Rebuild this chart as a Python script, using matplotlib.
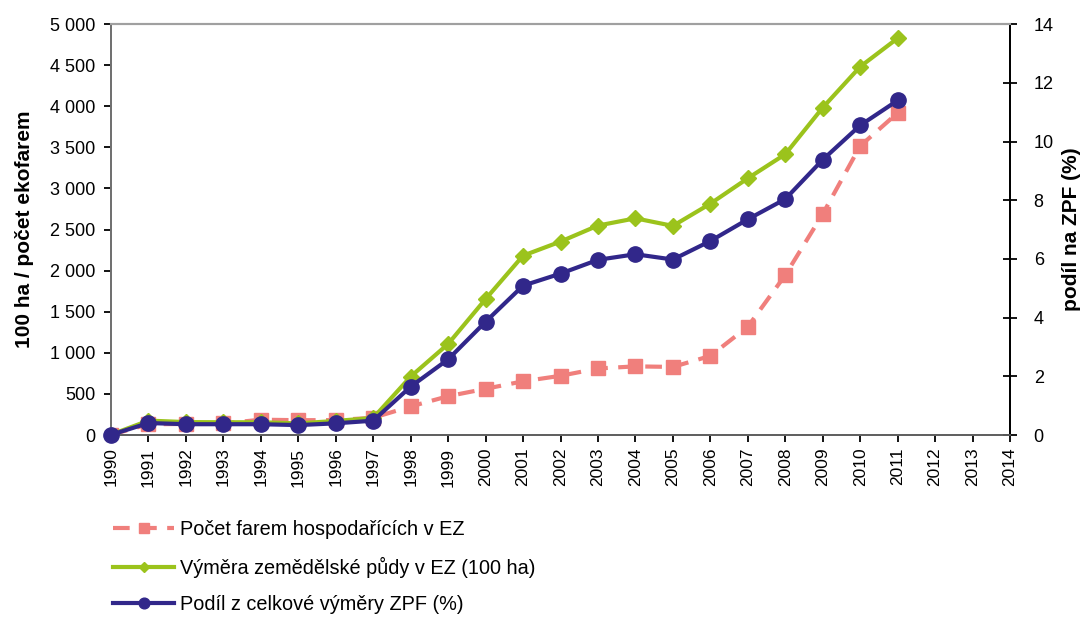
import matplotlib.pyplot as plt
import matplotlib.ticker as mticker
import numpy as np

years = list(range(1990, 2015))
data_years = list(range(1990, 2012))

farms = [3, 132, 135, 141, 187, 181, 182, 211, 348, 473, 563, 654, 721, 810,
         836, 829, 963, 1318, 1946, 2689, 3517, 3920]
area = [5, 176, 158, 156, 156, 142, 172, 208, 712, 1109, 1655, 2183, 2354, 2549,
        2637, 2545, 2815, 3124, 3417, 3984, 4482, 4828]
share = [0.01, 0.41, 0.37, 0.37, 0.37, 0.34, 0.40, 0.49, 1.65, 2.58, 3.86, 5.09,
         5.50, 5.97, 6.16, 5.98, 6.61, 7.35, 8.04, 9.38, 10.55, 11.40]

c_farm = '#F07F7C'
c_area = '#9BC31C'
c_share = '#31278A'

plt.rcParams['font.family'] = ['Liberation Sans', 'DejaVu Sans']

fig = plt.figure(figsize=(10.8, 6.18), dpi=100)
ax = fig.add_axes([0.1028, 0.296, 0.8324, 0.665])
ax2 = ax.twinx()

l1, = ax.plot(data_years, farms, color=c_farm, lw=3, ls=(0, (4, 2.5)), marker='s',
              ms=10, label='Počet farem hospodařících v EZ', zorder=2)
l2, = ax.plot(data_years, area, color=c_area, lw=3, marker='D', ms=8,
              label='Výměra zemědělské půdy v EZ (100 ha)', zorder=3)
l3, = ax2.plot(data_years, share, color=c_share, lw=3, marker='o', ms=11,
               label='Podíl z celkové výměry ZPF (%)', zorder=4, clip_on=False)

ax.set_xlim(1990, 2014)
ax.set_ylim(0, 5000)
ax2.set_ylim(0, 14)
ax.set_xticks(years)
ax.set_xticklabels([str(y) for y in years], rotation=90, fontsize=12.5)
ax.set_yticks(np.arange(0, 5001, 500))
ax.yaxis.set_major_formatter(mticker.FuncFormatter(lambda v, p: f'{int(v):,}'.replace(',', ' ')))
ax2.set_yticks(np.arange(0, 15, 2))
ax.tick_params(axis='x', labelsize=12.5, direction='out', length=5, width=1.3, pad=4)
ax.tick_params(axis='y', labelsize=13, direction='out', length=5, width=1.3, pad=6)
ax2.tick_params(axis='y', labelsize=13, direction='inout', length=10, width=1.3, pad=12)

for a in (ax, ax2):
    a.spines['top'].set_color('#A0A0A0')
    a.spines['top'].set_linewidth(1.5)
    a.spines['left'].set_linewidth(1.3)
    a.spines['left'].set_color('#707070')
    a.spines['right'].set_linewidth(1.3)
    a.spines['bottom'].set_linewidth(1.3)
    a.spines['bottom'].set_color('#606060')

ax.set_ylabel('100 ha / počet ekofarem', fontsize=15, fontweight='bold', labelpad=12)
ax2.set_ylabel('podíl na ZPF (%)', fontsize=15, fontweight='bold', labelpad=6)

fig.legend(handles=[l1, l2, l3], loc='upper left', bbox_to_anchor=(0.088, 0.1875),
           frameon=False, fontsize=14.3, handlelength=3.1, labelspacing=0.88,
           markerscale=0.7, handletextpad=0.3)

fig.savefig('out.png', dpi=100)
